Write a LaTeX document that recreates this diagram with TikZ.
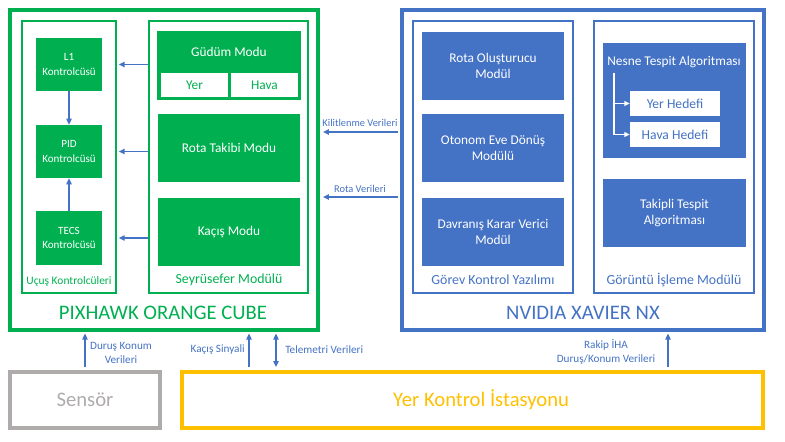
\documentclass[tikz,border=0pt]{standalone}
\usepackage{fontspec}
\setmainfont{Carlito}
\usetikzlibrary{arrows.meta}
\definecolor{cgreen}{HTML}{00B050}
\definecolor{cblue}{HTML}{4472C4}
\definecolor{cgray}{HTML}{AFABAB}
\definecolor{corange}{HTML}{FFC000}
\definecolor{carrow}{HTML}{4472C4}
\tikzset{
  rbox/.style n args={4}{minimum width={(#3-#1)*0.75pt}, minimum height={(#4-#2)*0.75pt}, at={({(#1+#3)/2},{(#2+#4)/2})}, anchor=center},
  box/.style={inner sep=0pt, align=center},
  outerg/.style={box, draw=cgreen, line width=2.3pt},
  innerg/.style={box, draw=cgreen, line width=2.1pt},
  outerb/.style={box, draw=cblue, line width=2.3pt},
  innerb/.style={box, draw=cblue, line width=2.1pt},
  gfill/.style={box, fill=cgreen, text=white, font=\fontsize{10}{12}\selectfont},
  gsmall/.style={box, fill=cgreen, text=white, font=\fontsize{8.3}{11}\selectfont},
  bfill/.style={box, fill=cblue, text=white, font=\fontsize{10}{12.5}\selectfont},
  wcellg/.style={box, fill=white, text=cgreen, font=\fontsize{10}{12}\selectfont},
  wcellb/.style={box, fill=white, text=cblue, font=\fontsize{10.2}{12}\selectfont},
  arr/.style={draw=carrow, line width=1pt, -{Triangle[length=4.5pt,width=4pt]}},
  darr/.style={draw=carrow, line width=1pt, {Triangle[length=4.5pt,width=4pt]}-{Triangle[length=4.5pt,width=4pt]}},
  warr/.style={draw=white, line width=0.9pt, -{Triangle[length=4pt,width=3.6pt]}},
  lbl/.style={text=carrow, font=\fontsize{8.4}{10.5}\selectfont, align=center, inner sep=0pt},
  mlbl/.style={text=carrow, font=\fontsize{7.8}{9}\selectfont, align=center, inner sep=0pt},
  grplblg/.style={text=cgreen, inner sep=0pt},
  grplblb/.style={text=cblue, inner sep=0pt, font=\fontsize{10.4}{12}\selectfont},
  title/.style={inner sep=0pt, font=\fontsize{15.5}{18}\selectfont},
  bigt/.style={inner sep=0pt, font=\fontsize{15.5}{18}\selectfont},
}
\begin{document}
\begin{tikzpicture}[x=0.75pt,y=-0.75pt]
\useasboundingbox (0,0) rectangle (785,442);
% PIXHAWK
\node[outerg, rbox={10}{10}{318}{330}] (pix) {};
\node[title, text=cgreen] (pixt) at (163,313) {PIXHAWK ORANGE CUBE};
\node[innerg, rbox={22}{21}{116}{293}] (ucus) {};
\node[grplblg, font=\fontsize{8.6}{10}\selectfont] (ucust) at (69,281) {Uçuş Kontrolcüleri};
\node[innerg, rbox={149}{21}{308}{293}] (seyr) {};
\node[grplblg, font=\fontsize{10.4}{12}\selectfont] (seyrt) at (229,280) {Seyrüsefer Modülü};
\node[gsmall, rbox={36}{38}{102}{91}] (l1) {L1\\Kontrolcüsü};
\node[gsmall, rbox={36}{125}{102}{178}] (pid) {PID\\Kontrolcüsü};
\node[gsmall, rbox={36}{211}{102}{265}] (tecs) {TECS\\Kontrolcüsü};
\node[box, fill=cgreen, draw=cgreen, line width=0.8pt, rbox={158}{32}{300}{99}] (gud) {};
\node[text=white, font=\fontsize{10}{12}\selectfont, inner sep=0pt] (gudt) at (229,52) {Güdüm Modu};
\node[wcellg, rbox={161}{73}{228}{97}] (yer) {Yer};
\node[wcellg, rbox={231}{73}{298}{97}] (hava) {Hava};
\node[gfill, rbox={158}{114}{300}{182}] (rota) {Rota Takibi Modu};
\node[gfill, rbox={158}{198}{300}{266}] (kacis) {Kaçış Modu};
\draw[arr, shorten >=1pt] (l1.east -| seyr.west) -- (l1.east -| ucus.east);
\draw[arr, shorten >=1pt] (pid.east -| seyr.west) -- (pid.east -| ucus.east);
\draw[arr, shorten >=1pt] (tecs.east -| seyr.west) -- (tecs.east -| ucus.east);
\draw[arr] (l1.south) -- (pid.north);
\draw[arr] (tecs.north) -- (pid.south);
% NVIDIA
\node[outerb, rbox={402}{10}{764}{330}] (nv) {};
\node[title, text=cblue] (nvt) at (583,313) {NVIDIA XAVIER NX};
\node[innerb, rbox={413}{21}{573}{293}] (gorev) {};
\node[grplblb] (gorevt) at (493,280) {Görev Kontrol Yazılımı};
\node[innerb, rbox={594}{21}{754}{293}] (gor) {};
\node[grplblb] (gort) at (674,280) {Görüntü İşleme Modülü};
\node[bfill, rbox={422}{32}{564}{100}] (rolus) {Rota Oluşturucu\\Modül};
\node[bfill, rbox={422}{114}{564}{182}] (oto) {Otonom Eve Dönüş\\Modülü};
\node[bfill, rbox={422}{198}{564}{266}] (davr) {Davranış Karar Verici\\Modül};
\node[box, fill=cblue, rbox={603}{43}{746}{158}] (nesne) {};
\node[text=white, font=\fontsize{10}{12}\selectfont, inner sep=0pt] (nesnet) at (674,62) {Nesne Tespit Algoritması};
\node[wcellb, rbox={630}{91}{720}{116}] (yerh) {Yer Hedefi};
\node[wcellb, rbox={630}{122}{720}{147}] (havah) {Hava Hedefi};
\coordinate (br0) at (614,73);
\draw[warr] (br0) |- (havah.west);
\draw[warr] (br0 |- yerh.west) -- (yerh.west);
\node[bfill, rbox={603}{179}{746}{247}] (tak) {Takipli Tespit\\Algoritması};
% middle arrows
\coordinate (k1) at (398,132);
\coordinate (r1) at (398,197);
\draw[arr, shorten >=2.5pt] (k1) -- (k1 -| pix.east);
\draw[arr, shorten >=2.5pt] (r1) -- (r1 -| pix.east);
\node[mlbl] (klbl) at (360,123) {Kilitlenme Verileri};
\node[mlbl] (rlbl) at (360,189) {Rota Verileri};
% bottom
\node[box, draw=cgray, line width=2.3pt, rbox={10}{372}{160}{428}] (sens) {};
\node[bigt, text=cgray] (senst) at (sens.center) {Sensör};
\node[box, draw=corange, line width=2.3pt, rbox={182}{372}{763}{428}] (ykis) {};
\node[bigt, text=corange] (ykist) at ([xshift=6.5pt]ykis.center) {Yer Kontrol İstasyonu};
\coordinate (a1) at (85,367);
\coordinate (a2) at (249,367);
\coordinate (a3) at (276,367);
\coordinate (a4) at (668,367);
\draw[arr, shorten >=1.5pt] (a1) -- (a1 |- pix.south);
\draw[arr, shorten >=1.5pt] (a2) -- (a2 |- pix.south);
\draw[darr, shorten >=1.5pt] (a3) -- (a3 |- pix.south);
\draw[arr, shorten >=1.5pt] (a4) -- (a4 |- nv.south);
\node[lbl] (l1lbl) at (121,353) {Duruş Konum\\Verileri};
\node[lbl, anchor=east] (l2lbl) at (245,350) {Kaçış Sinyali};
\node[lbl, anchor=west] (l3lbl) at (285,350) {Telemetri Verileri};
\node[lbl] (l4lbl) at (606,352) {Rakip İHA\\Duruş/Konum Verileri};
\end{tikzpicture}
\end{document}
